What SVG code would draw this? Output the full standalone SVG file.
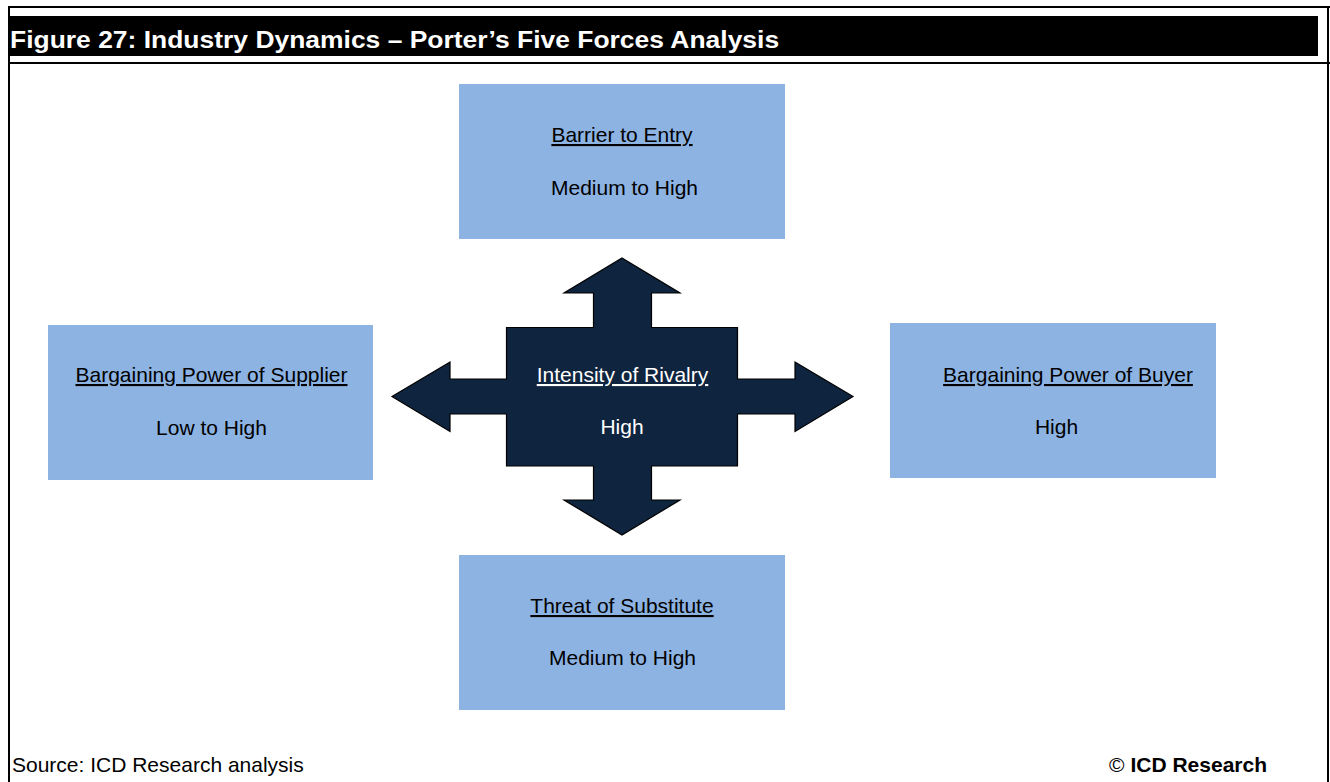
<svg xmlns="http://www.w3.org/2000/svg" width="1330" height="782" viewBox="0 0 1330 782">
  <style>
    .frame { fill: none; stroke: #000; stroke-width: 2; }
    .box { fill: #8DB3E2; }
    .lbl { font-family: "Liberation Sans", Arial, sans-serif; font-size: 21px; fill: #000; text-anchor: middle; }
    .head { text-decoration: underline; text-decoration-thickness: 2px; text-underline-offset: 3px; }
    .inv { fill: #fff; }
    .foot { font-family: "Liberation Sans", Arial, sans-serif; font-size: 21px; fill: #000; }
  </style>

  <!-- page frame and title bar -->
  <g id="frame">
    <rect x="0" y="0" width="1330" height="782" fill="#fff"/>
    <line class="frame" x1="8" y1="7" x2="1330" y2="7"/>
    <line class="frame" x1="9" y1="6" x2="9" y2="782"/>
    <line class="frame" x1="1328" y1="6" x2="1328" y2="782"/>
    <line class="frame" x1="8" y1="63" x2="1330" y2="63"/>
    <rect x="10" y="16" width="1308" height="40" fill="#000"/>
    <!-- title set in wide bold: slight horizontal stretch -->
    <text transform="translate(10,47.5) scale(1.102,1)" x="0" y="0" font-family="'Liberation Sans', Arial, sans-serif" font-size="24" font-weight="bold" fill="#fff">Figure 27: Industry Dynamics – Porter’s Five Forces Analysis</text>
  </g>

  <!-- centre: rivalry with four outward arrows -->
  <g id="rivalry">
    <polygon fill="#0F243E" stroke="#000" stroke-width="1.2" stroke-linejoin="miter"
      points="622,258 680,293 651.5,293 651.5,327.5 737.5,327.5 737.5,379 795,379 795,362 853,396.5 795,431.5 795,414 737.5,414 737.5,466 651.5,466 651.5,500 680,500 622,535 564,500 593.5,500 593.5,466 506.5,466 506.5,414 450,414 450,431.5 392,396.5 450,362 450,379 506.5,379 506.5,327.5 593.5,327.5 593.5,293 564,293"/>
    <text class="lbl head inv" x="622.5" y="382">Intensity of Rivalry</text>
    <text class="lbl inv" x="622" y="434">High</text>
  </g>

  <g id="entry">
    <rect class="box" x="459" y="84" width="326" height="155"/>
    <text class="lbl head" x="622" y="142">Barrier to Entry</text>
    <text class="lbl" x="624.5" y="195">Medium to High</text>
  </g>

  <g id="supplier">
    <rect class="box" x="48" y="325" width="325" height="155"/>
    <text class="lbl head" x="211.5" y="382">Bargaining Power of Supplier</text>
    <text class="lbl" x="211.5" y="435">Low to High</text>
  </g>

  <g id="buyer">
    <rect class="box" x="890" y="323" width="326" height="155"/>
    <text class="lbl head" x="1068" y="382">Bargaining Power of Buyer</text>
    <text class="lbl" x="1056.5" y="434">High</text>
  </g>

  <g id="substitute">
    <rect class="box" x="459" y="555" width="326" height="155"/>
    <text class="lbl head" x="622" y="613">Threat of Substitute</text>
    <text class="lbl" x="622.5" y="665">Medium to High</text>
  </g>

  <g id="connectors"></g>

  <!-- footer -->
  <g id="footer">
    <text class="foot" x="12" y="772">Source: ICD Research analysis</text>
    <text class="foot" x="1267" y="772" text-anchor="end"><tspan>©</tspan><tspan font-weight="bold"> ICD Research</tspan></text>
  </g>
</svg>
